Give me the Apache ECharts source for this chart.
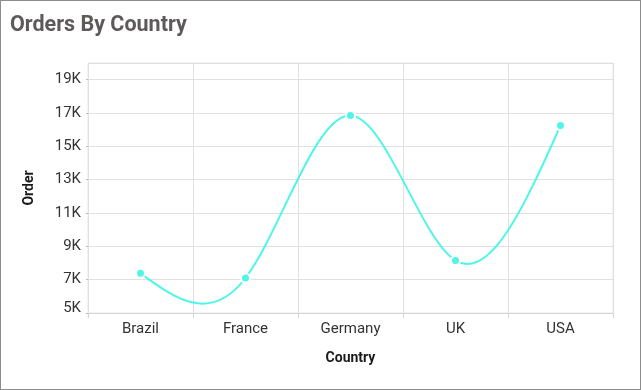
<!DOCTYPE html>
<html><head><meta charset="utf-8">
<script src="https://cdn.jsdelivr.net/npm/echarts@6/dist/echarts.min.js"></script>
<style>
html,body{margin:0;padding:0;background:#fff;}
#c{width:641px;height:390px;box-sizing:border-box;border:1px solid #8c8c8c;}
</style></head><body>
<div id="c"></div>
<script>
var categories = ['Brazil', 'France', 'Germany', 'UK', 'USA'];
var orders = [7380, 7100, 16850, 8150, 16250];
var yMin = 5000, yMax = 20000, yStep = 2000;
var lineColor = '#4ff6e6';

// Natural cubic spline drawn through points mapped by the axes (api.coord)
function splinePath(pts) {
  var n = pts.length - 1, i;
  if (n < 1) return '';
  // x spacing may be non-uniform in general; solve tridiagonal system
  var h = [], a = [], b = [], c = [], d = [], M = new Array(n + 1).fill(0);
  for (i = 0; i < n; i++) h.push(pts[i + 1][0] - pts[i][0]);
  var m = n - 1;
  if (m > 0) {
    for (i = 1; i < n; i++) {
      a.push(h[i - 1]); b.push(2 * (h[i - 1] + h[i])); c.push(h[i]);
      d.push(6 * ((pts[i + 1][1] - pts[i][1]) / h[i] - (pts[i][1] - pts[i - 1][1]) / h[i - 1]));
    }
    for (i = 1; i < m; i++) {
      var w = a[i] / b[i - 1];
      b[i] -= w * c[i - 1]; d[i] -= w * d[i - 1];
    }
    var sol = new Array(m);
    sol[m - 1] = d[m - 1] / b[m - 1];
    for (i = m - 2; i >= 0; i--) sol[i] = (d[i] - c[i] * sol[i + 1]) / b[i];
    for (i = 0; i < m; i++) M[i + 1] = sol[i];
  }
  var path = 'M' + pts[0][0] + ' ' + pts[0][1];
  for (i = 0; i < n; i++) {
    var x0 = pts[i][0], y0 = pts[i][1], x1 = pts[i + 1][0], y1 = pts[i + 1][1], hi = h[i];
    var s0 = (y1 - y0) / hi - hi * (2 * M[i] + M[i + 1]) / 6;
    var s1 = (y1 - y0) / hi + hi * (M[i] + 2 * M[i + 1]) / 6;
    path += ' C' + (x0 + hi / 3) + ' ' + (y0 + s0 * hi / 3) + ' ' +
            (x1 - hi / 3) + ' ' + (y1 - s1 * hi / 3) + ' ' + x1 + ' ' + y1;
  }
  return path;
}

var chart = echarts.init(document.getElementById('c'), null, {renderer: 'canvas'});
chart.setOption({
  animation: false,
  title: {
    text: 'Orders By Country', left: 4, top: 9,
    textStyle: {fontFamily: 'Roboto', fontSize: 21.5, fontWeight: 'bold', color: '#5e5a5a'}
  },
  grid: {left: 87, right: 27, top: 62, bottom: 76, show: true, borderColor: '#e6e6e6', borderWidth: 1},
  xAxis: {
    type: 'category', data: categories, boundaryGap: true,
    name: 'Country', nameLocation: 'middle', nameGap: 38,
    nameTextStyle: {fontFamily: 'Roboto', fontSize: 14, fontWeight: 'bold', color: '#1a1a1a'},
    axisLine: {show: true, lineStyle: {color: '#d6d6d6', width: 1}},
    axisTick: {show: true, length: 5, lineStyle: {color: '#d6d6d6'}},
    axisLabel: {fontFamily: 'Roboto', fontSize: 15, color: '#333', margin: 9},
    splitLine: {show: true, lineStyle: {color: '#e0e0e0'}}
  },
  yAxis: {
    type: 'value', min: yMin, max: yMax, interval: yStep,
    name: 'Order', nameLocation: 'middle', nameGap: 52,
    nameTextStyle: {fontFamily: 'Roboto', fontSize: 14, fontWeight: 'bold', color: '#1a1a1a'},
    axisLine: {show: false},
    axisTick: {show: true, length: 2, lineStyle: {color: '#bbb'}},
    axisLabel: {
      fontFamily: 'Roboto', fontSize: 15, color: '#333', margin: 7, showMaxLabel: false,
      formatter: function (v) {
        var s = (v / 1000) + 'K';
        return v === yMin ? '{m|' + s + '}' : s;
      },
      rich: {m: {fontFamily: 'Roboto', fontSize: 15, color: '#333', padding: [0, 0, 10, 0]}}
    },
    splitLine: {show: true, lineStyle: {color: '#e0e0e0'}}
  },
  series: [{
    type: 'custom',
    data: orders.map(function (v, i) { return [i, v]; }),
    encode: {x: 0, y: 1},
    renderItem: function (params, api) {
      if (params.dataIndex !== 0) return null;
      var pts = orders.map(function (v, i) { return api.coord([i, v]); });
      return {
        type: 'path',
        shape: {pathData: splinePath(pts)},
        style: {stroke: lineColor, lineWidth: 2, fill: null}
      };
    },
    z: 2
  }, {
    type: 'scatter', data: orders,
    symbol: 'circle', symbolSize: 9,
    itemStyle: {color: lineColor, borderColor: '#fff', borderWidth: 2, opacity: 1},
    z: 3
  }]
});
</script>
</body></html>
